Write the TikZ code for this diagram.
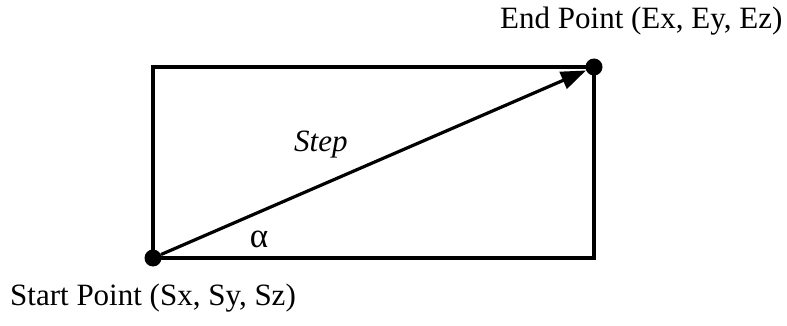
\documentclass[tikz,border=0pt]{standalone}
\usepackage{fontspec}
\setmainfont{Liberation Serif}
\usetikzlibrary{arrows.meta,positioning}

\begin{document}
\begin{tikzpicture}[
    x=1pt, y=-1pt,
    pointdot/.style={circle, fill=black, inner sep=0pt, minimum size=17pt},
    lbl/.style={inner sep=0pt, font=\fontsize{31}{36}\selectfont},
    edge/.style={line width=3.2pt},
    vec/.style={-{Triangle[length=25pt, width=18pt]}, line width=3.2pt}
]
\useasboundingbox (0,0) rectangle (787,326);
\node[pointdot] (start) at (153,258) {};
\node[pointdot] (end) at (594,67) {};
\draw[edge] (start.center) |- (end.center);
\draw[edge] (start.center) -| (end.center);
\draw[vec] (start) -- (end);
\node[lbl, anchor=base west] (endlbl) at (500,29) {End Point (Ex, Ey, Ez)};
\node[lbl, anchor=base west] (startlbl) at (10,305) {Start Point (Sx, Sy, Sz)};
\node[lbl, anchor=base west] (steplbl) at (294,152) {\itshape Step};
\node[lbl, font=\fontsize{35}{40}\selectfont] (alpha) at (259,239) {α};
\end{tikzpicture}
\end{document}
